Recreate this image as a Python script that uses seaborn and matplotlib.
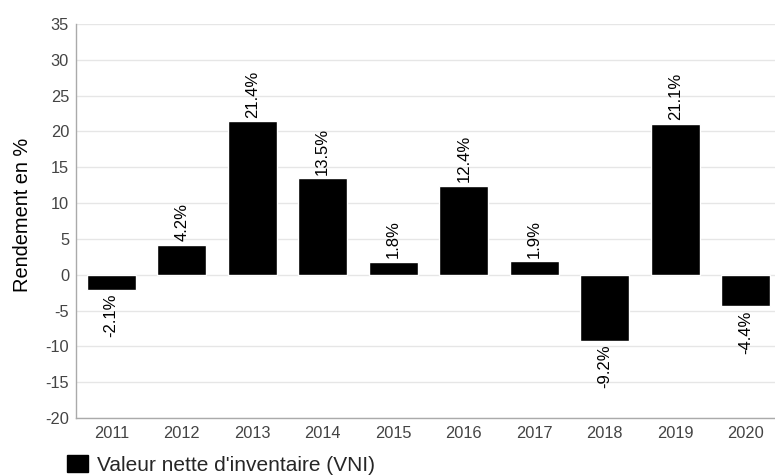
import matplotlib
matplotlib.use('Agg')
import matplotlib.pyplot as plt
from matplotlib.patches import Patch
import seaborn as sns
import pandas as pd

years = ['2011', '2012', '2013', '2014', '2015', '2016', '2017', '2018', '2019', '2020']
rendement = [-2.1, 4.2, 21.4, 13.5, 1.8, 12.4, 1.9, -9.2, 21.1, -4.4]
y_ticks = [-20, -15, -10, -5, 0, 5, 10, 15, 20, 25, 30, 35]
serie = "Valeur nette d'inventaire (VNI)"

df = pd.DataFrame({'annee': years, 'rendement': rendement})

sns.set_style('white')
plt.rcParams['font.family'] = ['Liberation Sans', 'DejaVu Sans']
plt.rcParams['axes.unicode_minus'] = False

fig = plt.figure(figsize=(7.75, 4.76), dpi=100)
ax = fig.add_axes([76 / 775, 58 / 476, 705 / 775, 394 / 476])

sns.barplot(data=df, x='annee', y='rendement', color='black', width=0.7,
            saturation=1, ax=ax, zorder=3)

# etiquettes verticales au-dessus / au-dessous des barres
for i, v in enumerate(rendement):
    off = 2.5 if v >= 0 else -3
    ax.annotate(f'{v:.1f}%', (i, v), xytext=(0, off), textcoords='offset points',
                rotation=90, ha='center', va='bottom' if v >= 0 else 'top',
                fontsize=12, color='black')

ax.set_ylim(-20, 35)
ax.set_xlim(-0.5, 9.5)
ax.set_yticks(y_ticks)
ax.yaxis.grid(True, color='#e6e6e6', linewidth=1, zorder=0)
ax.set_axisbelow(True)
ax.tick_params(axis='both', length=0, labelsize=11.8, colors='#444444')
ax.tick_params(axis='y', pad=5)
ax.tick_params(axis='x', pad=6)
ax.set_xlabel('')
ax.set_ylabel('Rendement en %', fontsize=14.4, color='black')
ax.yaxis.set_label_coords(-0.0624, 0.516)

for s in ['top', 'right']:
    ax.spines[s].set_visible(False)
for s in ['left', 'bottom']:
    ax.spines[s].set_color('#aaaaaa')
    ax.spines[s].set_linewidth(1)

fig.legend(handles=[Patch(facecolor='black', edgecolor='black', label=serie)],
           loc='center left', bbox_to_anchor=(67 / 775, 1 - 465 / 476), frameon=False,
           fontsize=15, handlelength=1.0, handleheight=0.9, handletextpad=0.43,
           borderpad=0, borderaxespad=0)

fig.savefig('out.png', dpi=100)
